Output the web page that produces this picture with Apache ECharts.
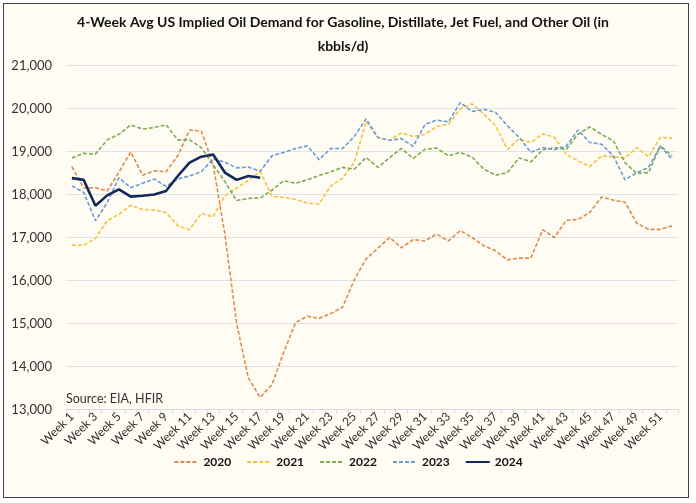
<!DOCTYPE html>
<html>
<head>
<meta charset="utf-8">
<script src="https://cdn.jsdelivr.net/npm/echarts@6/dist/echarts.min.js"></script>
<style>
html,body{margin:0;padding:0;background:#fff;}
#wrap{position:absolute;left:3px;top:3px;width:686px;height:495px;border:1.5px solid #444;background:#FFFDF3;box-sizing:border-box;}
#chart{position:absolute;left:0;top:0;width:696px;height:503px;}
</style>
</head>
<body>
<div id="wrap"></div>
<div id="chart"></div>
<script>
const weeks = [];
for (let i = 1; i <= 52; i++) weeks.push('Week ' + i);
const yTicks = [13000, 14000, 15000, 16000, 17000, 18000, 19000, 20000, 21000];
const seriesNames = ['2020', '2021', '2022', '2023', '2024'];

const d2020 = [18650,18150,18160,18080,18520,18990,18450,18550,18530,18900,19500,19470,18700,17080,15000,13730,13280,13580,14330,15020,15170,15120,15230,15380,16020,16500,16750,17000,16760,16950,16920,17080,16920,17160,17000,16810,16690,16480,16520,16520,17180,17000,17400,17420,17580,17940,17870,17820,17330,17190,17190,17270];
const d2021 = [16820,16820,16980,17390,17540,17750,17650,17640,17580,17270,17180,17560,17480,17970,18150,18330,18530,17960,17930,17890,17800,17780,18200,18380,18750,19700,19320,19260,19430,19350,19400,19580,19640,19990,20110,19870,19600,19050,19290,19210,19410,19330,18940,18780,18650,18900,18880,18850,19090,18880,19330,19310];
const d2022 = [18850,18960,18940,19270,19400,19620,19520,19560,19620,19270,19270,19090,18690,18300,17860,17910,17920,18100,18320,18260,18340,18440,18530,18630,18590,18860,18630,18860,19070,18840,19050,19080,18900,18980,18870,18590,18450,18510,18850,18760,19040,19090,19050,19400,19570,19400,19250,18740,18490,18510,19130,18900];
const d2023 = [18200,18050,17390,17810,18390,18160,18260,18360,18190,18360,18430,18530,18830,18750,18620,18640,18540,18900,18980,19070,19130,18810,19070,19070,19350,19760,19330,19260,19300,19120,19630,19730,19690,20140,19930,19980,19910,19600,19330,18980,19090,19040,19120,19500,19210,19170,18900,18340,18510,18630,19120,18820];
const d2024 = [18380,18340,17740,17980,18120,17950,17970,18000,18080,18430,18740,18880,18930,18510,18340,18430,18390];

const colors = ['#DE8A4F', '#F4C245', '#7EAB55', '#6B9BD6', '#13285C'];
const dataSets = [d2020, d2021, d2022, d2023, d2024];

const chart = echarts.init(document.getElementById('chart'), null, {renderer: 'canvas'});
const FONT = 'Lato';

const series = seriesNames.map((name, k) => ({
  name: name,
  type: 'line',
  data: dataSets[k],
  symbol: 'none',
  smooth: false,
  z: k === 4 ? 10 : 2,
  lineStyle: k === 4
    ? {color: colors[k], width: 2.6, type: 'solid'}
    : {color: colors[k], width: 1.6, type: [4, 2]},
  itemStyle: {color: colors[k]}
}));

chart.setOption({
  backgroundColor: 'transparent',
  animation: false,
  title: {
    text: '4-Week Avg US Implied Oil Demand for Gasoline, Distillate, Jet Fuel, and Other Oil (in\nkbbls/d)',
    left: 338,
    textAlign: 'center',
    top: 5,
    textStyle: {fontFamily: FONT, fontWeight: 'bold', fontSize: 14, color: '#111', lineHeight: 24}
  },
  legend: {
    show: true,
    orient: 'horizontal',
    top: 451,
    left: 'center',
    itemWidth: 24,
    itemHeight: 12,
    itemGap: 15,
    itemStyle: {opacity: 0},
    textStyle: {fontFamily: FONT, fontWeight: 'bold', fontSize: 12, color: '#111'},
    data: seriesNames
  },
  grid: {left: 66, right: 18, top: 65.5, bottom: 93.5, containLabel: false},
  xAxis: {
    type: 'category',
    data: weeks,
    boundaryGap: true,
    axisLine: {lineStyle: {color: '#D9D9E3', width: 1}},
    axisTick: {show: true, lineStyle: {color: '#D9D9E3'}, length: 4, interval: 0},
    axisLabel: {interval: 1, rotate: 45, fontFamily: FONT, fontSize: 12, color: '#333', margin: 5}
  },
  yAxis: {
    type: 'value',
    min: 13000,
    max: 21000,
    interval: 1000,
    axisLine: {show: false},
    axisTick: {show: false},
    splitLine: {lineStyle: {color: '#E1E1EA', width: 1}},
    axisLabel: {
      fontFamily: FONT, fontSize: 13, color: '#333', margin: 14,
      formatter: v => yTicks.includes(v) ? v.toLocaleString('en-US') : ''
    }
  },
  graphic: [{
    type: 'text',
    left: 66,
    top: 392,
    style: {text: 'Source: EIA, HFIR', fontFamily: FONT, fontSize: 12.5, fill: '#333'}
  }],
  series: series
});
</script>
</body>
</html>
